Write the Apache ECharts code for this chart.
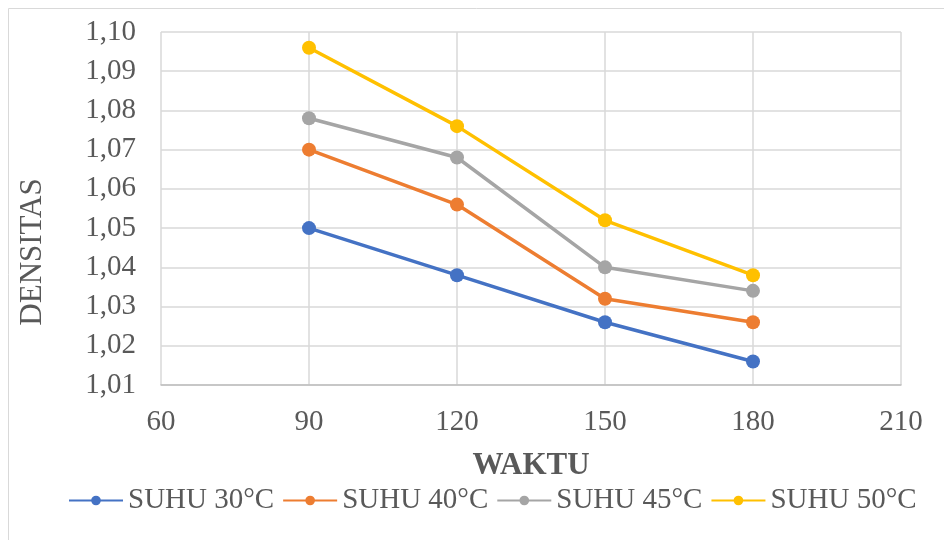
<!DOCTYPE html>
<html><head><meta charset="utf-8">
<script src="https://cdn.jsdelivr.net/npm/echarts@6/dist/echarts.min.js"></script>
<style>html,body{margin:0;padding:0;background:#fff}#c{width:944px;height:540px}</style>
</head><body><div id="c"></div>
<script>
const waktu = [90, 120, 150, 180];
const seriesNames = ['SUHU 30°C', 'SUHU 40°C', 'SUHU 45°C', 'SUHU 50°C'];
const suhu30 = [1.050, 1.038, 1.026, 1.016];
const suhu40 = [1.070, 1.056, 1.032, 1.026];
const suhu45 = [1.078, 1.068, 1.040, 1.034];
const suhu50 = [1.096, 1.076, 1.052, 1.038];
const colors = ['#4472C4', '#ED7D31', '#A5A5A5', '#FFC000'];
const allVals = [suhu30, suhu40, suhu45, suhu50];

const font = '"Liberation Serif", "Times New Roman", serif';
const chart = echarts.init(document.getElementById('c'));
chart.setOption({
  animation: false,
  color: colors,
  textStyle: { fontFamily: font },
  grid: { left: 161, right: 43, top: 32, bottom: 155, containLabel: false },
  xAxis: {
    type: 'value', min: 60, max: 210, interval: 30,
    axisLine: { show: true, lineStyle: { color: '#bfbfbf', width: 1.5 } },
    axisTick: { show: false },
    splitLine: { show: true, lineStyle: { color: '#d9d9d9', width: 1.5 } },
    axisLabel: { color: '#595959', fontSize: 29, fontFamily: font, margin: 23 }
  },
  yAxis: {
    type: 'value', min: 1.01, max: 1.10, interval: 0.01,
    axisLine: { show: false },
    axisTick: { show: false },
    splitLine: { show: true, lineStyle: { color: '#d9d9d9', width: 1.5 } },
    axisLabel: { color: '#595959', fontSize: 29, fontFamily: font, margin: 25,
      formatter: v => v.toFixed(2).replace('.', ',') }
  },
  legend: {
    bottom: 20, left: 63, itemWidth: 54, itemHeight: 12, itemGap: 8,
    textStyle: { color: '#595959', fontSize: 29, fontFamily: font },
    data: seriesNames
  },
  graphic: [
    { type: 'rect', shape: { x: 8.5, y: 8.5, width: 945, height: 545 }, style: { fill: 'none', stroke: '#d9d9d9', lineWidth: 1 }, silent: true },
    { type: 'text', x: 531, y: 466, style: { text: 'WAKTU', font: 'bold 31px ' + font, fill: '#595959', align: 'center', verticalAlign: 'middle' } },
    { type: 'text', x: 33, y: 252, rotation: Math.PI / 2, style: { text: 'DENSITAS', font: '31px ' + font, fill: '#595959', align: 'center', verticalAlign: 'middle' } }
  ],
  series: seriesNames.map((n, i) => ({
    name: n, type: 'line',
    data: waktu.map((x, j) => [x, allVals[i][j]]),
    symbol: 'circle', symbolSize: 14,
    lineStyle: { width: 3.5, color: colors[i] },
    itemStyle: { color: colors[i] }
  }))
});
</script></body></html>
